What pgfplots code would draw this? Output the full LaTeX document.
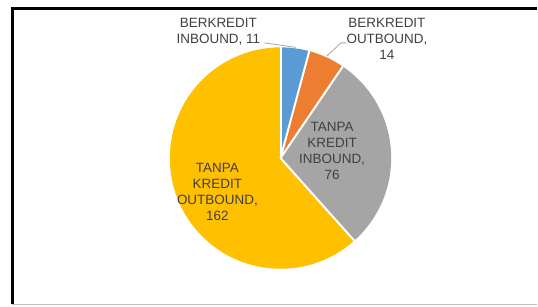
\documentclass[border=0pt]{standalone}
\usepackage{pgfplots}
\usepackage{pgfplotstable}
\usepackage{fontspec}
\setmainfont{Liberation Sans}
\pgfplotsset{compat=1.18}
\definecolor{c0}{HTML}{5B9BD5}
\definecolor{c1}{HTML}{ED7D31}
\definecolor{c2}{HTML}{A5A5A5}
\definecolor{c3}{HTML}{FFC000}
\definecolor{lbl}{HTML}{404040}
\definecolor{lead}{HTML}{A6A6A6}
\pgfplotstableread{
label value
BI 11
BO 14
TI 76
TO 162
}\piedata
\begin{document}
\xdef\total{0}%
\foreach \i in {0,...,3}{%
  \pgfplotstablegetelem{\i}{value}\of\piedata
  \pgfmathsetmacro\tmp{\total+\pgfplotsretval}%
  \xdef\total{\tmp}%
}%
\xdef\cum{90}%
\foreach \i in {0,...,3}{%
  \pgfplotstablegetelem{\i}{value}\of\piedata
  \pgfmathsetmacro\ang{\pgfplotsretval/\total*360}%
  \expandafter\xdef\csname sa\i\endcsname{\cum}%
  \pgfmathsetmacro\newcum{\cum-\ang}%
  \xdef\cum{\newcum}%
  \expandafter\xdef\csname ea\i\endcsname{\cum}%
}%
\begin{tikzpicture}
\begin{axis}[x=1pt, y=1pt, xmin=0, xmax=538, ymin=0, ymax=307, y dir=reverse,
  hide axis, clip=false, axis line style={draw=none}]
\fill[white] (axis cs:0,0) rectangle (axis cs:538,307);
% frame
\draw[black, line width=3pt] (axis cs:12.5,305) -- (axis cs:12.5,9) -- (axis cs:538,9);
\draw[gray!50, line width=1pt] (axis cs:12.5,305.5) -- (axis cs:538,305.5);
% wedges
\pgfplotsinvokeforeach{0,...,3}{
  \fill[c#1] (axis cs:281.3,158.5) -- ++(\csname sa#1\endcsname:111pt)
    arc[start angle=\csname sa#1\endcsname, end angle=\csname ea#1\endcsname, radius=111pt] -- cycle;
}
\pgfplotsinvokeforeach{0,...,3}{
  \draw[white, line width=2pt, line join=round] (axis cs:281.3,158.5) -- ++(\csname sa#1\endcsname:111pt);
}
% leader lines
\draw[lead, line width=0.8pt] (axis cs:265,43) -- (axis cs:297,47.5);
\draw[lead, line width=0.8pt] (axis cs:347,43) -- (axis cs:342,43) -- (axis cs:328,56);
% labels
\tikzset{lb/.style={align=center, inner sep=0pt, text=lbl, font=\fontsize{13.5}{16}\selectfont}}
\node[lb] at (axis cs:219,31.7) {BERKREDIT\\INBOUND, 11};
\node[lb] at (axis cs:388,39.2) {BERKREDIT\\OUTBOUND,\\14};
\node[lb] at (axis cs:333,151.2) {TANPA\\KREDIT\\INBOUND,\\76};
\node[lb] at (axis cs:218,192.2) {TANPA\\KREDIT\\OUTBOUND,\\162};
\end{axis}
\end{tikzpicture}
\end{document}
